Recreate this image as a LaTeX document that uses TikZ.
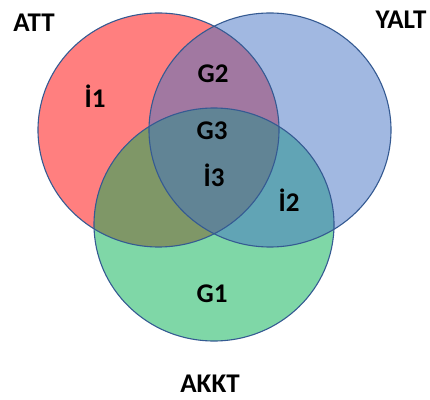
\documentclass[tikz,border=0pt]{standalone}
\usepackage{fontspec}
\setmainfont{Carlito}
\definecolor{setred}{HTML}{FF0000}
\definecolor{setgreen}{HTML}{00B050}
\definecolor{setblue}{HTML}{4472C4}
\definecolor{rimblue}{HTML}{355A92}
\begin{document}
\begin{tikzpicture}[x=1pt,y=1pt,
  setfill/.style={fill opacity=0.5},
  rim/.style={draw=rimblue, line width=1.1pt},
  lbl/.style={font=\fontsize{27}{32}\selectfont\bfseries, text=black, anchor=base, inner sep=0pt}]
\useasboundingbox (0,0) rectangle (430,399);
% the three sets, filled translucently: red, then green, then blue on top
\fill[setred, setfill]   (158.5,269) ellipse [x radius=120.5, y radius=117];
\fill[setgreen, setfill] (214,174.5) ellipse [x radius=120, y radius=116.5];
\fill[setblue, setfill]  (270,269)   ellipse [x radius=121, y radius=117];
% outlines
\draw[rim] (158.5,269) ellipse [x radius=120.5, y radius=117];
\draw[rim] (214,174.5) ellipse [x radius=120, y radius=116.5];
\draw[rim] (270,269)   ellipse [x radius=121, y radius=117];
% set names
\node[lbl] (att)  at (34,367)  {ATT};
\node[lbl] (yalt) at (401,370) {YALT};
\node[lbl] (akkt) at (210,7)   {AKKT};
% region labels
\node[lbl] (i1) at (95,291)  {İ1};
\node[lbl] (g2) at (213,316) {G2};
\node[lbl] (g3) at (212,259) {G3};
\node[lbl] (i3) at (214,212) {İ3};
\node[lbl] (i2) at (289,187) {İ2};
\node[lbl] (g1) at (212,97)  {G1};
\end{tikzpicture}
\end{document}
